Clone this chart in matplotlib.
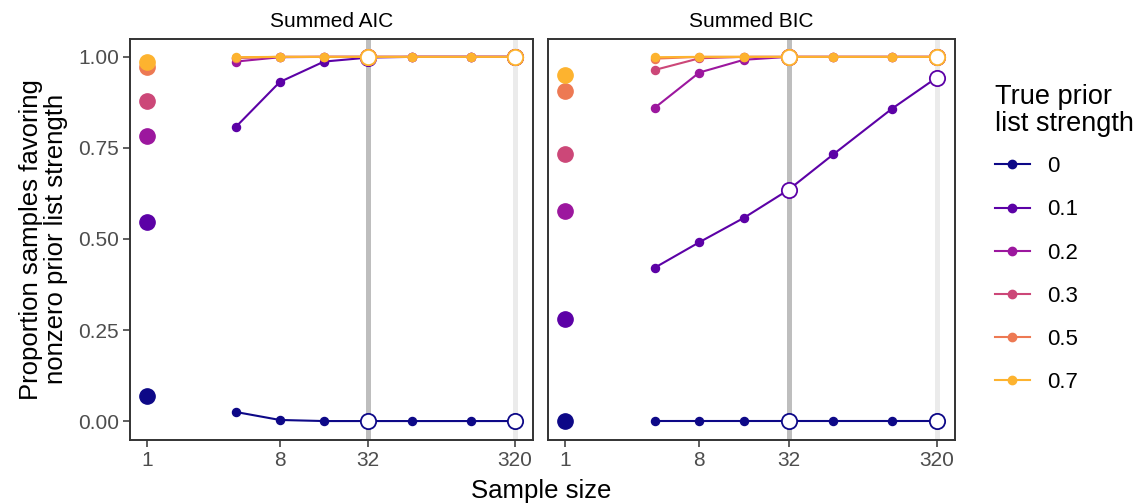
import matplotlib.pyplot as plt
from matplotlib.lines import Line2D

plt.rcParams['font.family'] = ['Liberation Sans', 'DejaVu Sans']

# sample sizes along the lines (n = 1 is drawn as a separate dot)
sizes = [4, 8, 16, 32, 64, 160, 320]
strengths = ['0', '0.1', '0.2', '0.3', '0.5', '0.7']
colors = ['#0D0887', '#5C01A6', '#9C179E', '#CC4778', '#ED7953', '#FDB32F']

# proportion at sample size 1
aic_n1 = [0.07, 0.547, 0.783, 0.879, 0.972, 0.986]
bic_n1 = [0.001, 0.279, 0.578, 0.733, 0.905, 0.951]

# Summed AIC
aic_0 = [0.025, 0.003, 0.0, 0.0, 0.0, 0.0, 0.0]
aic_01 = [0.807, 0.931, 0.987, 0.998, 1.0, 1.0, 1.0]
aic_02 = [0.987, 0.999, 1.0, 1.0, 1.0, 1.0, 1.0]
aic_03 = [0.997, 1.0, 1.0, 1.0, 1.0, 1.0, 1.0]
aic_05 = [0.998, 1.0, 1.0, 1.0, 1.0, 1.0, 1.0]
aic_07 = [0.999, 1.0, 1.0, 1.0, 1.0, 1.0, 1.0]

# Summed BIC
bic_0 = [0.0, 0.0, 0.0, 0.0, 0.0, 0.0, 0.0]
bic_01 = [0.421, 0.491, 0.558, 0.635, 0.732, 0.858, 0.943]
bic_02 = [0.860, 0.957, 0.992, 1.0, 1.0, 1.0, 1.0]
bic_03 = [0.964, 0.996, 1.0, 1.0, 1.0, 1.0, 1.0]
bic_05 = [0.995, 1.0, 1.0, 1.0, 1.0, 1.0, 1.0]
bic_07 = [0.999, 1.0, 1.0, 1.0, 1.0, 1.0, 1.0]

panels = [
    ("Summed AIC", aic_n1, [aic_0, aic_01, aic_02, aic_03, aic_05, aic_07]),
    ("Summed BIC", bic_n1, [bic_0, bic_01, bic_02, bic_03, bic_05, bic_07]),
]
open_at = [32, 320]

fig = plt.figure(figsize=(11.4, 5.04), dpi=100)
axes = [fig.add_axes([0.114, 0.127, 0.3535, 0.7956]),
        fig.add_axes([0.4807, 0.127, 0.3570, 0.7956])]

for ax, (title, n1, series) in zip(axes, panels):
    ax.set_xscale('log')
    ax.axvline(32, color='#BEBEBE', lw=3.6, zorder=0)
    ax.axvline(320, color='#EBEBEB', lw=3.6, zorder=0)
    for i, ys in enumerate(series):
        c = colors[i]
        ax.plot(sizes, ys, color=c, lw=1.5, marker='o', ms=5.8, zorder=2 + i)
        ox = [x for x in sizes if x in open_at]
        oy = [y for x, y in zip(sizes, ys) if x in open_at]
        ax.plot(ox, oy, ls='none', marker='o', ms=11, mfc='white', mec=c,
                mew=1.3, zorder=2 + i)
        ax.plot([1], [n1[i]], ls='none', marker='o', ms=11, color=c, zorder=2 + i)
    ax.set_xlim(10 ** -0.118, 10 ** 2.628)
    ax.set_ylim(-0.052, 1.049)
    ax.set_xticks([1, 8, 32, 320])
    ax.set_xticklabels(['1', '8', '32', '320'])
    ax.minorticks_off()
    ax.set_yticks([0, 0.25, 0.5, 0.75, 1.0])
    ax.tick_params(labelsize=15, colors='#333333', length=5, width=1.1,
                   labelcolor='#4D4D4D', pad=3)
    for s in ax.spines.values():
        s.set_color('#333333')
        s.set_linewidth(1.4)
    ax.text(0.5, 1.02, title, transform=ax.transAxes, ha='center',
            va='bottom', fontsize=15)

axes[0].set_yticklabels(['0.00', '0.25', '0.50', '0.75', '1.00'])
axes[1].tick_params(axis='y', left=False, labelleft=False)

fig.text(0.038, 0.525, "Proportion samples favoring\nnonzero prior list strength",
         rotation=90, ha='center', va='center', fontsize=18.5, linespacing=1.08)
fig.text(0.4746, 0.026, "Sample size", ha='center', va='center', fontsize=18.5)

handles = [Line2D([], [], color=c, lw=1.5, marker='o', ms=6) for c in colors]
leg = fig.legend(handles, strengths, title="True prior\nlist strength",
                 loc='upper left', bbox_to_anchor=(0.8725, 0.834), frameon=False,
                 fontsize=16, title_fontsize=19.5, handlelength=1.6,
                 handletextpad=0.75, labelspacing=1.0, borderpad=0,
                 borderaxespad=0)
leg._legend_box.align = 'left'
leg._legend_box.sep = 14
leg.get_title().set_linespacing(1.05)

fig.savefig('out.png', dpi=100)
